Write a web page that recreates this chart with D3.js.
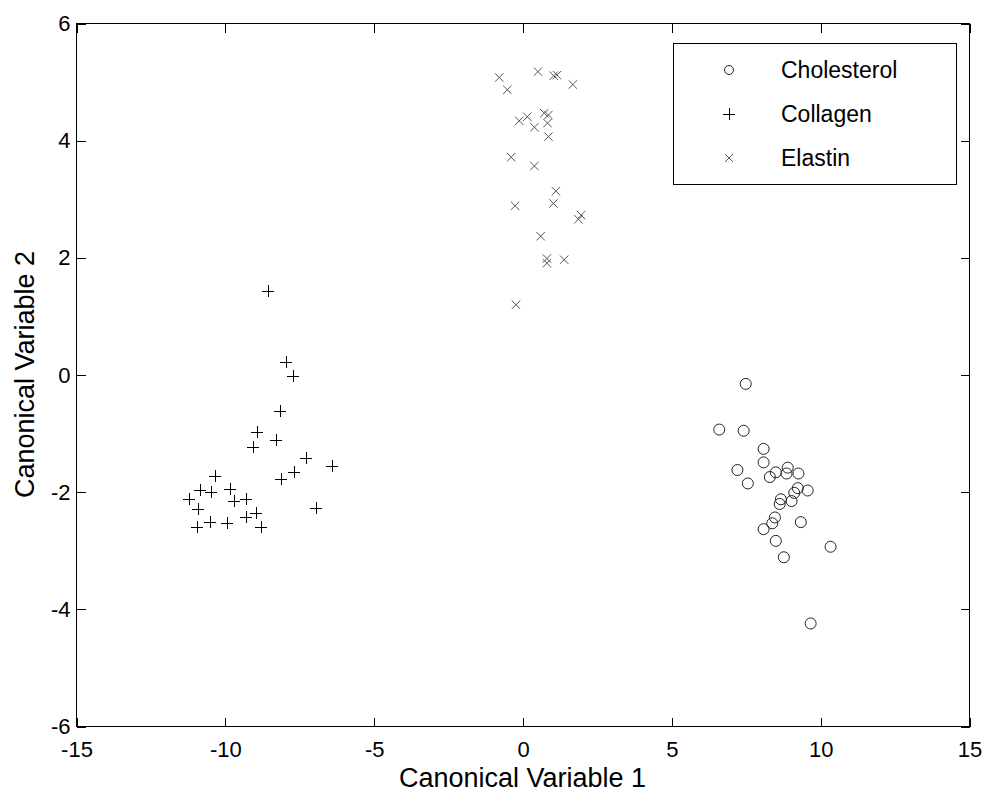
<!DOCTYPE html>
<html>
<head>
<meta charset="utf-8">
<script src="https://cdn.jsdelivr.net/npm/d3@7"></script>
<style>
    body { margin: 0; background: #fff; }
    svg { display: block; }
    text { font-family: "Liberation Sans", Arial, Helvetica, sans-serif; fill: #000; }
</style>
</head>
<body>
<svg width="989" height="794"></svg>
<script>
// canonical variable scores
var cholesterolX = [7.50, 6.61, 7.43, 8.10, 8.10, 7.22, 7.57, 8.51, 8.31, 8.91, 8.87, 9.27, 9.25,
    9.58, 9.13, 9.04, 8.68, 8.64, 9.35, 8.48, 8.39, 8.10, 8.51, 10.35, 8.78, 9.68];
var cholesterolY = [-0.16, -0.94, -0.96, -1.27, -1.50, -1.63, -1.86, -1.67, -1.75, -1.59, -1.69, -1.69, -1.94,
    -1.98, -2.02, -2.16, -2.13, -2.21, -2.52, -2.44, -2.54, -2.64, -2.84, -2.94, -3.12, -4.25];

var collagenX = [-8.55, -7.96, -7.70, -8.13, -8.91, -8.27, -9.06, -7.28, -6.40, -7.68, -8.10, -10.32, -10.85,
    -10.46, -9.81, -11.20, -9.68, -9.28, -10.90, -6.93, -8.96, -9.29, -10.51, -9.94, -10.94, -8.77];
var collagenY = [1.43, 0.21, -0.03, -0.62, -0.98, -1.12, -1.23, -1.43, -1.56, -1.66, -1.79, -1.73, -1.98,
    -2.01, -1.96, -2.12, -2.16, -2.12, -2.30, -2.28, -2.37, -2.44, -2.51, -2.54, -2.60, -2.60];

var elastinX = [-0.78, -0.51, 0.52, 1.05, 1.16, 1.69, -0.11, 0.16, 0.73, 0.87, 0.40, 0.84, 0.87,
    -0.38, 0.40, 1.12, -0.25, 1.04, 1.97, 1.88, 0.61, 0.82, 0.82, 1.40, -0.22];
var elastinY = [5.07, 4.86, 5.17, 5.10, 5.11, 4.95, 4.33, 4.40, 4.46, 4.43, 4.22, 4.29, 4.06,
    3.71, 3.56, 3.13, 2.88, 2.92, 2.72, 2.65, 2.36, 1.98, 1.90, 1.96, 1.19];

var groupNames = ["Cholesterol", "Collagen", "Elastin"];
var xTicks = [-15, -10, -5, 0, 5, 10, 15];
var yTicks = [-6, -4, -2, 0, 2, 4, 6];

var svg = d3.select("svg");

var plotLeft = 76, plotRight = 969, plotTop = 23, plotBottom = 726;

var x = d3.scaleLinear().domain([-15, 15]).range([plotLeft, plotRight]);
var y = d3.scaleLinear().domain([-6, 6]).range([plotBottom, plotTop]);

function pairs(xs, ys) {
    return xs.map(function (v, i) {
        return { x: v, y: ys[i] };
    });
}

function plainNum(d) {
    return String(d); // hyphen minus, like the original
}

// frame
svg.append("rect")
    .attr("x", plotLeft + 0.5)
    .attr("y", plotTop + 0.5)
    .attr("width", plotRight - plotLeft)
    .attr("height", plotBottom - plotTop)
    .attr("fill", "#fff")
    .attr("stroke", "#000")
    .attr("stroke-width", 1);

// axes, ticks pointing inwards on all four sides
var xAxis = svg.append("g")
    .attr("transform", "translate(0.5," + (plotBottom + 0.5) + ")")
    .call(d3.axisBottom(x).tickValues(xTicks).tickSizeInner(-9).tickSizeOuter(0).tickPadding(15).tickFormat(plainNum));
var yAxis = svg.append("g")
    .attr("transform", "translate(" + (plotLeft + 0.5) + ",0.5)")
    .call(d3.axisLeft(y).tickValues(yTicks).tickSizeInner(-9).tickSizeOuter(0).tickPadding(6).tickFormat(plainNum));
svg.append("g")
    .attr("transform", "translate(0.5," + (plotTop + 0.5) + ")")
    .call(d3.axisTop(x).tickValues(xTicks).tickSizeInner(-9).tickSizeOuter(0).tickFormat(""));
svg.append("g")
    .attr("transform", "translate(" + (plotRight + 0.5) + ",0.5)")
    .call(d3.axisRight(y).tickValues(yTicks).tickSizeInner(-9).tickSizeOuter(0).tickFormat(""));

svg.selectAll(".domain").remove();
svg.selectAll(".tick line").attr("stroke", "#000").attr("shape-rendering", "crispEdges");
xAxis.selectAll("text").style("font-size", "22px").attr("fill", "#000");
yAxis.selectAll("text").style("font-size", "22px").attr("fill", "#000");

// axis labels
svg.append("text")
    .attr("x", (plotLeft + plotRight) / 2)
    .attr("y", 787)
    .attr("text-anchor", "middle")
    .style("font-size", "27px")
    .text("Canonical Variable 1");

svg.append("text")
    .attr("transform", "translate(34," + ((plotTop + plotBottom) / 2) + ") rotate(-90)")
    .attr("text-anchor", "middle")
    .style("font-size", "27px")
    .text("Canonical Variable 2");

// markers
function drawCircle(g, r) {
    g.append("circle")
        .attr("r", r)
        .attr("fill", "none")
        .attr("stroke", "#222")
        .attr("stroke-width", 1);
}
function drawPlus(g, s) {
    g.append("path")
        .attr("d", "M" + (-s) + ",0.5H" + s + "M0.5," + (-s) + "V" + s)
        .attr("fill", "none")
        .attr("stroke", "#000")
        .attr("stroke-width", 1)
        .attr("shape-rendering", "crispEdges");
}
function drawCross(g, s) {
    g.append("path")
        .attr("d", "M" + (-s) + "," + (-s) + "L" + s + "," + s + "M" + (-s) + "," + s + "L" + s + "," + (-s))
        .attr("fill", "none")
        .attr("stroke", "#555")
        .attr("stroke-width", 1);
}

var plot = svg.append("g");

plot.selectAll(".chol")
    .data(pairs(cholesterolX, cholesterolY))
    .enter().append("g")
    .attr("class", "chol")
    .attr("transform", function (d) {
        return "translate(" + x(d.x) + "," + y(d.y) + ")";
    })
    .each(function () { drawCircle(d3.select(this), 5.5); });

plot.selectAll(".coll")
    .data(pairs(collagenX, collagenY))
    .enter().append("g")
    .attr("class", "coll")
    .attr("transform", function (d) {
        return "translate(" + Math.round(x(d.x)) + "," + Math.round(y(d.y)) + ")";
    })
    .each(function () { drawPlus(d3.select(this), 6); });

plot.selectAll(".elas")
    .data(pairs(elastinX, elastinY))
    .enter().append("g")
    .attr("class", "elas")
    .attr("transform", function (d) {
        return "translate(" + x(d.x) + "," + y(d.y) + ")";
    })
    .each(function () { drawCross(d3.select(this), 4.2); });

// legend
var legend = svg.append("g");
legend.append("rect")
    .attr("x", 673.5)
    .attr("y", 43.5)
    .attr("width", 283)
    .attr("height", 141)
    .attr("fill", "#fff")
    .attr("stroke", "#000");

var rowY = [70, 114, 158];
var markerFns = [
    function (g) { drawCircle(g, 4.5); },
    function (g) { drawPlus(g, 6); },
    function (g) { drawCross(g, 4); }
];

groupNames.forEach(function (name, i) {
    var m = legend.append("g").attr("transform", "translate(729," + rowY[i] + ")");
    markerFns[i](m);
    legend.append("text")
        .attr("x", 781)
        .attr("y", rowY[i])
        .attr("dy", "0.35em")
        .style("font-size", "23px")
        .text(name);
});
</script>
</body>
</html>
